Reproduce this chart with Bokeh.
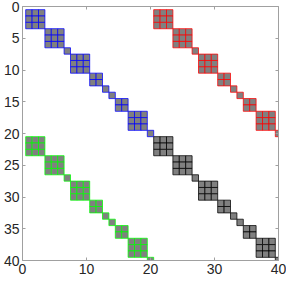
from bokeh.plotting import figure
from bokeh.models import Range1d, LinearAxis, FixedTicker
from bokeh.embed import file_html
from bokeh.resources import INLINE

# Block-diagonal structure of each 20x20 quadrant (block sizes along the diagonal)
block_sizes = [3, 3, 1, 3, 2, 1, 1, 2, 3, 1]
# Quadrants: (row offset, column offset, edge colour)
quad_row_offset = [0, 0, 20, 20]
quad_col_offset = [0, 20, 0, 20]
quad_colors = ["#0000ff", "#ff0000", "#00ff00", "#000000"]
x_ticks = [0, 10, 20, 30, 40]
y_ticks = [0, 5, 10, 15, 20, 25, 30, 35, 40]


def block_points(sizes):
    rows, cols = [], []
    start = 1
    for s in sizes:
        for r in range(start, start + s):
            for c in range(start, start + s):
                rows.append(r)
                cols.append(c)
        start += s
    return rows, cols


p = figure(width=286, height=276, output_backend="svg", toolbar_location=None,
           x_range=Range1d(0, 40), y_range=Range1d(40, 0),
           min_border_left=0, min_border_right=8, min_border_top=6, min_border_bottom=0,
           x_axis_location=None, y_axis_location=None)
p.background_fill_color = "white"
p.border_fill_color = "white"
p.outline_line_color = None
p.xgrid.visible = False
p.ygrid.visible = False

base_r, base_c = block_points(block_sizes)
for ro, co, col in zip(quad_row_offset, quad_col_offset, quad_colors):
    xs = [c + co for c in base_c]
    ys = [r + ro for r in base_r]
    p.scatter(xs, ys, marker="square", size=6.4, fill_color="#808080",
              line_color=col, line_width=1, line_alpha=0.75)


def style(ax, ticks, labels):
    ax.axis_line_color = "#a0a0a0"
    ax.major_tick_line_color = "#a0a0a0"
    ax.minor_tick_line_color = None
    ax.major_tick_in = 3
    ax.major_tick_out = 0
    ax.major_label_text_font = "Liberation Sans"
    ax.major_label_text_color = "#262626"
    ax.major_label_text_font_size = "14px"
    if labels:
        ax.major_label_standoff = 3
    else:
        ax.major_label_standoff = 0
        ax.major_label_overrides = {t: "" for t in ticks}


bx = LinearAxis(ticker=FixedTicker(ticks=x_ticks))
style(bx, x_ticks, True)
p.add_layout(bx, "below")
lx = LinearAxis(ticker=FixedTicker(ticks=y_ticks))
style(lx, y_ticks, True)
p.add_layout(lx, "left")
tx = LinearAxis(ticker=FixedTicker(ticks=x_ticks))
style(tx, x_ticks, False)
p.add_layout(tx, "above")
rx = LinearAxis(ticker=FixedTicker(ticks=y_ticks))
style(rx, y_ticks, False)
p.add_layout(rx, "right")

open("out.html", "w").write(file_html(p, INLINE))
